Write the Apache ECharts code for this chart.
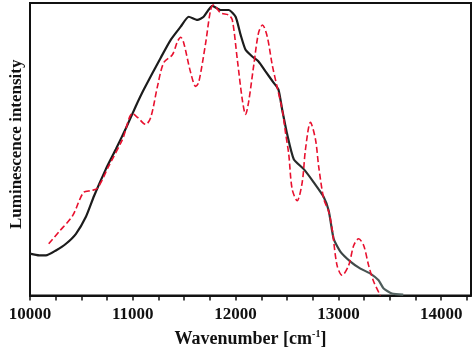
<!DOCTYPE html>
<html>
<head>
<meta charset="utf-8">
<script src="https://cdn.jsdelivr.net/npm/echarts@6/dist/echarts.min.js"></script>
<style>
    html, body { margin: 0; padding: 0; background: #fff; }
    #spectrum { width: 474px; height: 353px; }
</style>
</head>
<body>
<div id="spectrum"></div>
<script>
// 黑线：测量光谱 (wavenumber, intensity)
var measuredX = [10000, 10090, 10155, 10252, 10350, 10447, 10544, 10624, 10738, 10835, 10932, 11029,
    11107, 11272, 11369, 11466, 11544, 11628, 11689, 11774, 11854, 11932, 12000, 12049, 12097, 12162,
    12223, 12291, 12369, 12417, 12453, 12502, 12566, 12663, 12760, 12857, 12906, 12954, 13019, 13117,
    13214, 13311, 13391, 13440, 13521, 13631];
var measuredY = [14.3, 13.7, 13.7, 15.4, 17.7, 21.1, 26.9, 34.1, 43.2, 50.0, 57.1, 64.7,
    70.4, 81.3, 87.4, 91.9, 95.3, 94.2, 95.3, 99.0, 97.6, 97.6, 95.3, 89.1, 84.0, 81.7,
    80.0, 76.6, 72.8, 70.4, 63.6, 55.1, 46.6, 43.2, 38.7, 33.7, 29.0, 19.4, 15.0, 11.6,
    9.2, 7.5, 5.2, 2.4, 0.7, 0.3];

// 红色虚线：计算光谱
var calcX = [10182, 10282, 10415, 10520, 10600, 10657, 10767, 10900, 10997, 11046, 11126, 11175,
    11240, 11301, 11385, 11434, 11466, 11495, 11563, 11612, 11641, 11709, 11757, 11786, 11854, 11932,
    11968, 12017, 12065, 12097, 12126, 12175, 12223, 12262, 12308, 12356, 12405, 12453, 12485, 12517,
    12550, 12599, 12648, 12680, 12728, 12777, 12809, 12858, 12906, 12939, 12987, 13036, 13100, 13149,
    13197, 13246, 13294, 13343, 13408];
var calcY = [17.7, 21.8, 27.3, 35.2, 35.9, 36.7, 44.3, 53.4, 62.2, 60.9, 58.5, 60.9,
    71.5, 79.6, 82.3, 86.8, 88.3, 86.4, 76.2, 71.5, 72.8, 86.4, 97.6, 99.3, 96.6, 95.9,
    94.2, 80.6, 67.0, 61.9, 66.0, 78.3, 89.8, 92.5, 88.5, 78.9, 71.1, 63.6, 55.8, 48.3,
    36.4, 32.4, 38.7, 50.0, 59.2, 53.4, 43.9, 33.0, 28.6, 22.8, 10.3, 6.9, 10.3, 17.1,
    19.4, 17.1, 10.3, 4.8, 0];

var xMin = 10000, xMax = 14290, xStep = 250, xLabelStep = 1000;

function pairs(xs, ys) {
    var out = [];
    for (var i = 0; i < xs.length; i++) {
        out.push([xs[i], ys[i]]);
    }
    return out;
}

var myChart = echarts.init(document.getElementById('spectrum'));
var serif = '"Liberation Serif", "DejaVu Serif", serif';

var option = {
    backgroundColor: '#fff',
    animation: false,
    grid: {
        left: 29,
        right: 3,
        top: 3,
        bottom: 56,
        show: true,
        borderColor: '#111',
        borderWidth: 2
    },
    xAxis: {
        type: 'value',
        min: xMin,
        max: xMax,
        interval: xStep,
        name: 'Wavenumber [cm{sup|-1}]',
        nameLocation: 'middle',
        nameGap: 34,
        nameTextStyle: {
            fontFamily: serif,
            fontWeight: 'bold',
            fontSize: 18,
            color: '#111',
            rich: {
                sup: { fontFamily: serif, fontWeight: 'bold', fontSize: 10, color: '#111', padding: [0, 0, 9, 0] }
            }
        },
        axisLine: { lineStyle: { color: '#111', width: 2 } },
        axisTick: { inside: false, length: 5, lineStyle: { color: '#111', width: 1.5 } },
        axisLabel: {
            margin: 11,
            fontFamily: serif,
            fontWeight: 'bold',
            fontSize: 17,
            color: '#111',
            showMaxLabel: false,
            formatter: function (v) {
                return v % xLabelStep === 0 ? String(v) : '';
            }
        },
        splitLine: { show: false }
    },
    yAxis: {
        type: 'value',
        min: 0,
        max: 100,
        name: 'Luminescence intensity',
        nameLocation: 'middle',
        nameGap: 5,
        nameTextStyle: {
            fontFamily: serif,
            fontWeight: 'bold',
            fontSize: 17,
            color: '#111',
            padding: [0, 0, 0, 10]
        },
        axisLine: { show: true, lineStyle: { color: '#111', width: 2 } },
        axisTick: { show: false },
        axisLabel: { show: false },
        splitLine: { show: false }
    },
    series: [
        {
            name: 'measured',
            type: 'line',
            smooth: 0.2,
            showSymbol: false,
            data: pairs(measuredX, measuredY),
            lineStyle: {
                width: 2.2,
                color: new echarts.graphic.LinearGradient(0, 0, 1, 0, [
                    { offset: 0, color: '#1c1c1c' },
                    { offset: 0.65, color: '#1c1c1c' },
                    { offset: 1, color: '#5a6b69' }
                ])
            }
        },
        {
            name: 'calculated',
            type: 'line',
            smooth: 0.3,
            showSymbol: false,
            data: pairs(calcX, calcY),
            lineStyle: { color: '#e8102e', width: 1.6, type: [6, 3] }
        }
    ]
};

myChart.setOption(option, true);
</script>
</body>
</html>
